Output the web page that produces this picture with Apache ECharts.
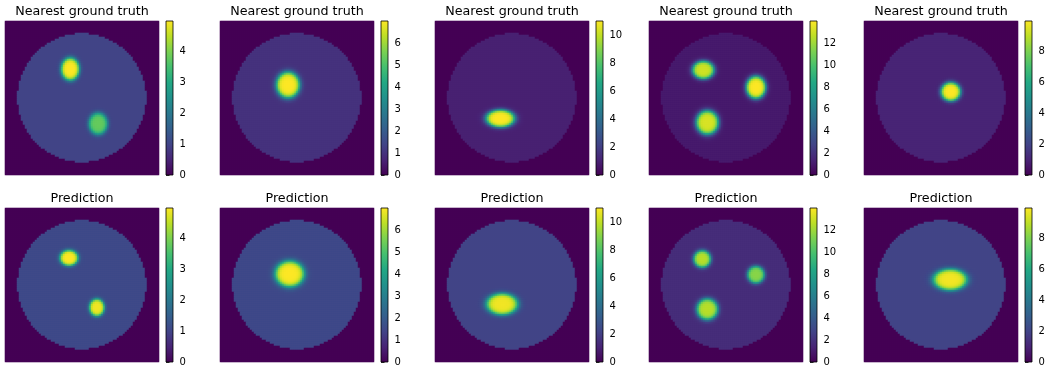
<!DOCTYPE html>
<html>
<head>
<meta charset="utf-8">
<script src="https://cdn.jsdelivr.net/npm/echarts@6/dist/echarts.min.js"></script>
<style>
  html, body { margin: 0; padding: 0; background: #fff; }
  #chart { width: 1048px; height: 368px; }
</style>
</head>
<body>
<div id="chart"></div>
<script>
// Upper end of the colour scale for each column (shared by both rows)
const scaleMax = [5.0, 7.0, 11.0, 14.0, 9.95];
// Colour-bar tick labels for each column
const scaleTicks = [
  [0, 1, 2, 3, 4],
  [0, 1, 2, 3, 4, 5, 6],
  [0, 2, 4, 6, 8, 10],
  [0, 2, 4, 6, 8, 10, 12],
  [0, 2, 4, 6, 8]
];
const rowTitles = ['Nearest ground truth', 'Prediction'];

// Level inside the circular support, per column
const baseTruth = [1.0, 1.0, 1.0, 1.0, 1.0];
const basePred  = [1.1, 1.5, 2.2, 1.8, 2.0];

// Inclusions: [centre x, centre y, half-width x, half-width y, peak] (x, y as image fractions)
const blobsTruth = [
  [[0.425, 0.314, 0.058, 0.072, 5.0], [0.606, 0.669, 0.060, 0.070, 3.8]],
  [[0.443, 0.417, 0.075, 0.083, 7.0]],
  [[0.426, 0.635, 0.092, 0.056, 11.0]],
  [[0.354, 0.320, 0.070, 0.058, 13.0], [0.696, 0.433, 0.063, 0.072, 14.0], [0.380, 0.661, 0.072, 0.077, 13.2]],
  [[0.565, 0.461, 0.063, 0.060, 9.95]]
];
const blobsPred = [
  [[0.417, 0.326, 0.058, 0.050, 5.0], [0.598, 0.648, 0.048, 0.055, 4.9]],
  [[0.454, 0.430, 0.093, 0.083, 7.0]],
  [[0.437, 0.626, 0.100, 0.068, 10.8]],
  [[0.347, 0.333, 0.055, 0.055, 12.5], [0.696, 0.435, 0.055, 0.055, 11.5], [0.380, 0.659, 0.068, 0.068, 12.5]],
  [[0.561, 0.467, 0.108, 0.068, 9.8]]
];

// Circular support: centre x, centre y, radius (image fractions)
const disc = [0.5, 0.5, 0.418];
const GRID_N = 77;
const EDGE = 0.12;

const viridis = ['#440154', '#482475', '#414487', '#355f8d', '#2a788e', '#21918c',
                 '#22a884', '#44bf70', '#7ad151', '#bddf26', '#fde725'];

// Rasterise one panel onto a GRID_N x GRID_N cell grid
function rasterise(base, blobs, vmax) {
  const cells = [];
  for (let j = 0; j < GRID_N; j++) {
    for (let i = 0; i < GRID_N; i++) {
      const x = (i + 0.5) / GRID_N, y = (j + 0.5) / GRID_N;
      const dx = x - disc[0], dy = y - disc[1];
      let v = 0;
      if (dx * dx + dy * dy <= disc[2] * disc[2]) {
        v = base;
        for (const b of blobs) {
          const r = Math.hypot((x - b[0]) / b[2], (y - b[1]) / b[3]);
          const s = 1 / (1 + Math.exp((r - 1) / EDGE));
          v = Math.max(v, base + (b[4] - base) * s);
        }
      }
      cells.push([i, j, Math.min(v, vmax)]);
    }
  }
  return cells;
}

const imgLeft = [5, 220, 435, 649, 864];
const imgTop = [21, 208];
const IMG = 154;
const BAR_GAP = 161, BAR_W = 7;
const cellIdx = Array.from({ length: GRID_N }, (_, k) => k);
const font = 'DejaVu Sans';

const grid = [], xAxis = [], yAxis = [], series = [], visualMap = [], graphic = [];

for (let r = 0; r < 2; r++) {
  for (let c = 0; c < 5; c++) {
    const vmax = scaleMax[c];
    const base = r === 0 ? baseTruth[c] : basePred[c];
    const blobs = r === 0 ? blobsTruth[c] : blobsPred[c];

    // image panel
    const gi = grid.length;
    grid.push({ left: imgLeft[c], top: imgTop[r], width: IMG, height: IMG });
    xAxis.push({ type: 'category', gridIndex: gi, data: cellIdx, show: false });
    yAxis.push({ type: 'category', gridIndex: gi, data: cellIdx, show: false, inverse: true });
    const si = series.length;
    series.push({
      type: 'heatmap', xAxisIndex: gi, yAxisIndex: gi,
      data: rasterise(base, blobs, vmax),
      progressive: 0, silent: true,
      emphasis: { disabled: true }
    });
    visualMap.push({
      type: 'continuous', show: false, seriesIndex: si, dimension: 2,
      min: 0, max: vmax, inRange: { color: viridis }
    });

    // colour bar
    const bi = grid.length;
    grid.push({ left: imgLeft[c] + BAR_GAP, top: imgTop[r], width: BAR_W, height: IMG });
    xAxis.push({ type: 'value', gridIndex: bi, min: 0, max: 1, show: false });
    yAxis.push({
      type: 'value', gridIndex: bi, min: 0, max: vmax, position: 'right',
      axisLine: { show: false },
      splitLine: { show: false },
      axisTick: { show: true, length: 3.5, lineStyle: { color: '#000', width: 0.8 }, customValues: scaleTicks[c] },
      axisLabel: { customValues: scaleTicks[c], fontSize: 10, color: '#000', margin: 6.5, fontFamily: font }
    });
    series.push({
      type: 'custom', xAxisIndex: bi, yAxisIndex: bi, silent: true,
      data: [[0, vmax]],
      renderItem: function (params, api) {
        const p0 = api.coord([0, 0]);
        const p1 = api.coord([1, api.value(1)]);
        const stops = viridis.map((col, k) => ({ offset: k / (viridis.length - 1), color: col }));
        return {
          type: 'rect',
          shape: { x: p0[0], y: p1[1], width: p1[0] - p0[0], height: p0[1] - p1[1] },
          style: { fill: new echarts.graphic.LinearGradient(0, 1, 0, 0, stops), stroke: '#000', lineWidth: 0.8 }
        };
      }
    });

    // panel title
    graphic.push({
      type: 'text', x: imgLeft[c] + IMG / 2, y: r === 0 ? 11.2 : 198.2,
      style: { text: rowTitles[r], fontSize: 12.7, fontFamily: font, fill: '#000', align: 'center', verticalAlign: 'middle' }
    });
  }
}

const chart = echarts.init(document.getElementById('chart'), null, { renderer: 'canvas' });
chart.setOption({
  animation: false,
  backgroundColor: '#fff',
  grid, xAxis, yAxis, series, visualMap, graphic
});
</script>
</body>
</html>
